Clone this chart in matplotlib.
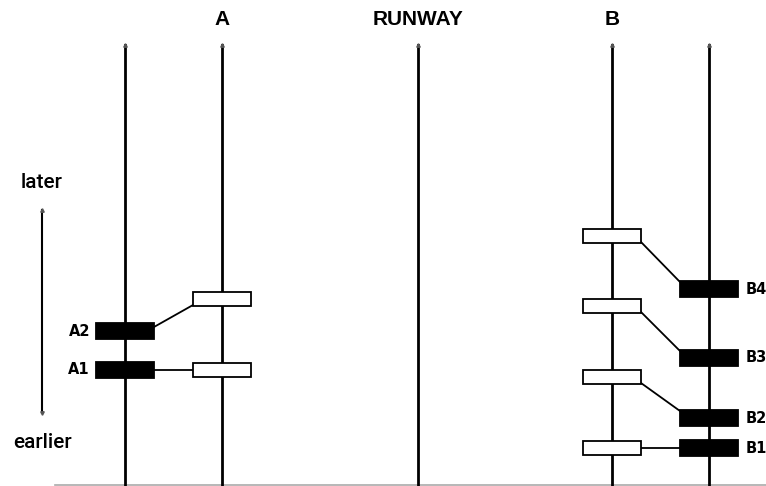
import matplotlib
matplotlib.use("Agg")
import matplotlib.pyplot as plt
from matplotlib.patches import Rectangle

# lanes (columns)
lane_names = ["A_in", "A_out", "RUNWAY", "B_out", "B_in"]
lane_x = [125, 222, 418, 612, 709]
headers = {"A": 222, "RUNWAY": 418, "B": 612}

# times (higher = later)
a_black_labels = ["A1", "A2"]
a_black_t = [116, 155]
a_white_t = [116, 187]
b_black_labels = ["B1", "B2", "B3", "B4"]
b_black_t = [38, 68, 128, 197]
b_white_t = [38, 109, 180, 250]

W, H = 766, 486
fig = plt.figure(figsize=(W / 100, H / 100), dpi=100)
ax = fig.add_axes([0, 0, 1, 1])
ax.set_xlim(0, W)
ax.set_ylim(0, H)
ax.axis("off")

top = 441
# bottom line
ax.plot([55, W], [1, 1], color="#aaaaaa", lw=1.2, zorder=1)
# lanes
for x in lane_x:
    ax.plot([x, x], [0, top], color="black", lw=2.0, zorder=1)
    ax.plot([x], [top], marker="^", ms=2.5, color="#555555", zorder=1)

for name, x in headers.items():
    ax.text(x, H - 20, name, ha="center", va="center", fontsize=15,
            fontweight="bold", family="Liberation Sans")

# time axis
ax.plot([42, 42], [73, 276], color="black", lw=1.5)
ax.plot([42], [276], marker="^", ms=2.5, color="#555555")
ax.plot([42], [73], marker="v", ms=2.5, color="#555555")
ax.text(42, H - 183, "later", ha="center", va="center", fontsize=15,
        fontweight="medium", family="Roboto")
ax.text(42, H - 442, "earlier", ha="center", va="center", fontsize=15,
        fontweight="medium", family="Roboto")

bw = 58
bh_black, bh_white = 16, 14


def box(xc, t, filled):
    bh = bh_black if filled else bh_white
    ax.add_patch(Rectangle((xc - bw / 2, t - bh / 2), bw, bh,
                           facecolor="black" if filled else "white",
                           edgecolor="black", lw=1.3, zorder=3))


# A side: black on lane 0, white on lane 1
for lab, tb, tw in zip(a_black_labels, a_black_t, a_white_t):
    box(lane_x[0], tb, True)
    box(lane_x[1], tw, False)
    ax.plot([lane_x[0] + bw / 2, lane_x[1] - bw / 2],
            [tb + 4 if tw > tb else tb, tw - 6 if tw > tb else tw],
            color="black", lw=1.3, zorder=2)
    ax.text(lane_x[0] - bw / 2 - 6, tb, lab, ha="right", va="center",
            fontsize=10.5, fontweight="bold", family="DejaVu Sans")

# B side: white on lane 3, black on lane 4
for lab, tb, tw in zip(b_black_labels, b_black_t, b_white_t):
    box(lane_x[4], tb, True)
    box(lane_x[3], tw, False)
    ax.plot([lane_x[3] + bw / 2, lane_x[4] - bw / 2],
            [tw - 6 if tw > tb else tw, tb + 7 if tw > tb else tb],
            color="black", lw=1.3, zorder=2)
    ax.text(lane_x[4] + bw / 2 + 8, tb, lab, ha="left", va="center",
            fontsize=10.5, fontweight="bold", family="DejaVu Sans")

fig.savefig("out.png", dpi=100)
